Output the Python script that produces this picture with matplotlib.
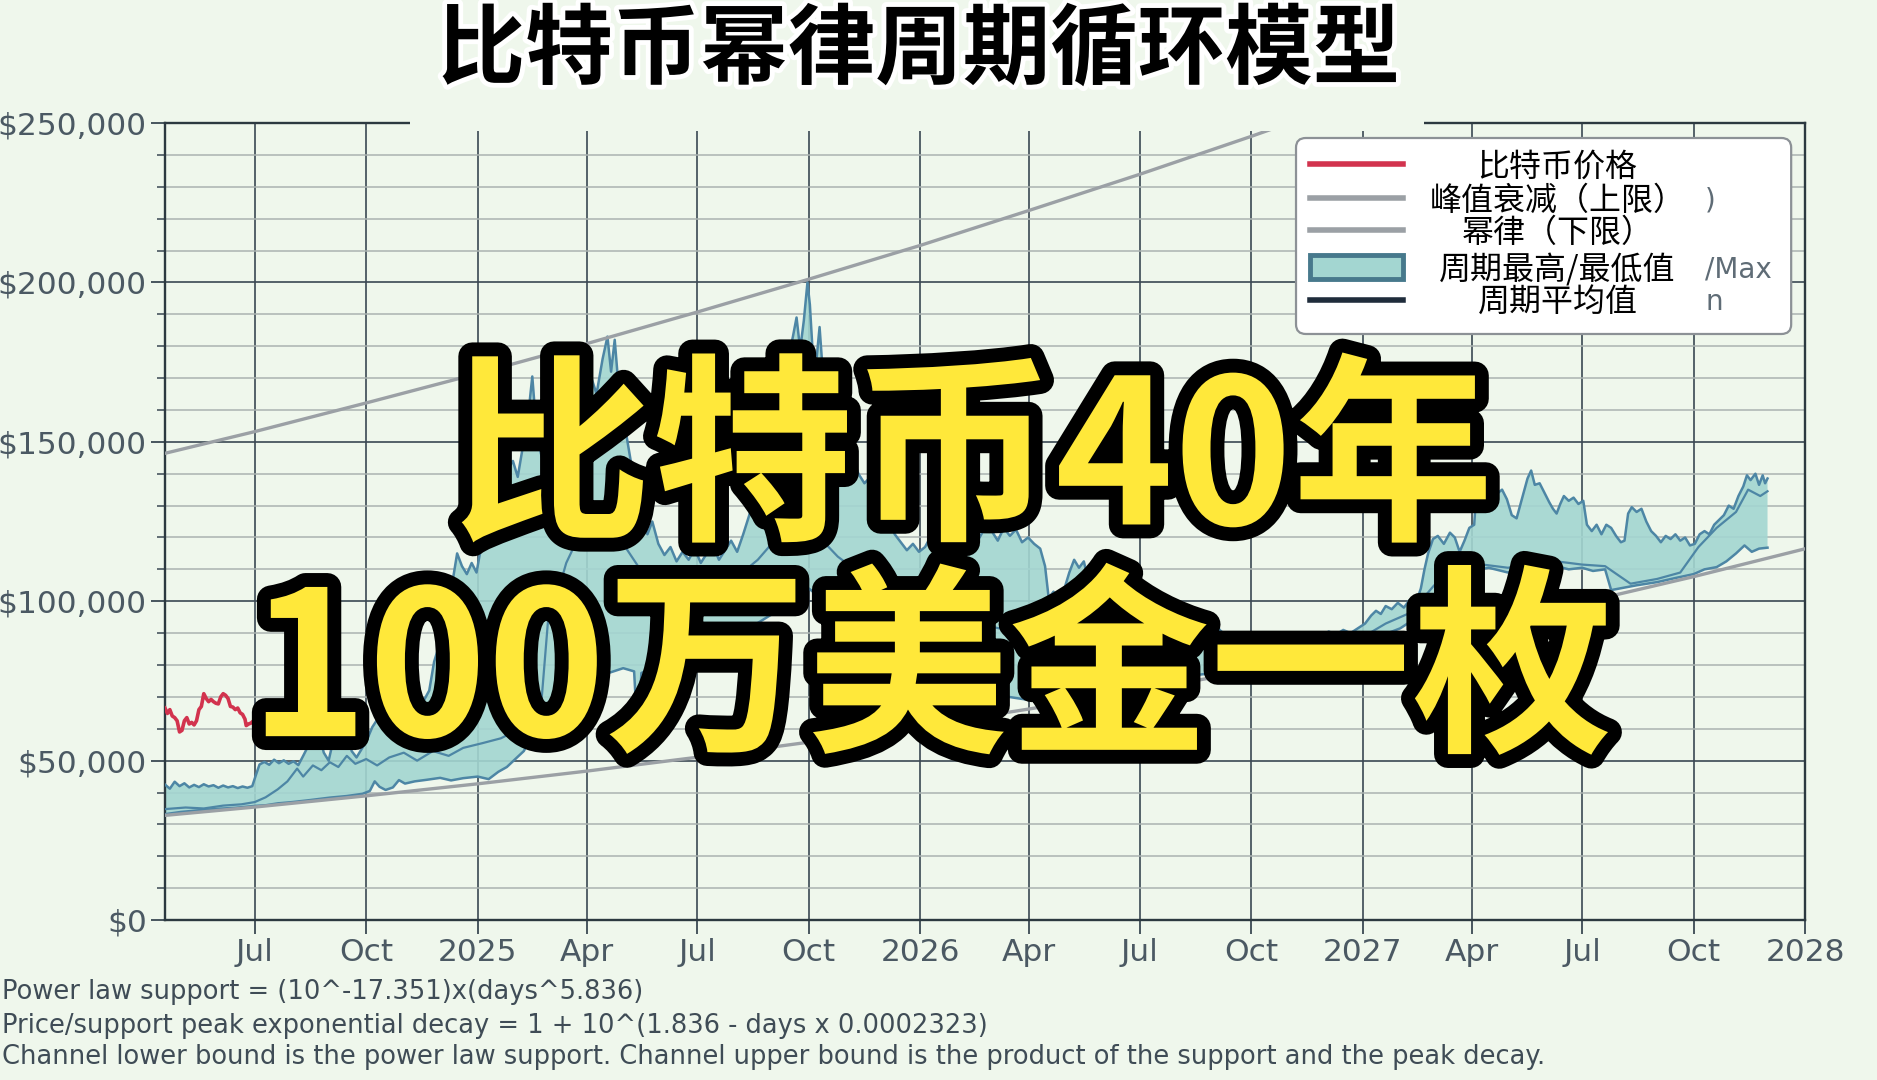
import numpy as np
import pandas as pd
import matplotlib
matplotlib.use('Agg')
import matplotlib.pyplot as plt
import matplotlib.dates as mdates
import matplotlib.patheffects as pe
from matplotlib.patches import FancyBboxPatch, Rectangle
from matplotlib.lines import Line2D
from matplotlib.ticker import FixedLocator, MultipleLocator, FuncFormatter

CJK = ['Noto Sans CJK SC', 'DejaVu Sans']

# values in thousands of USD
price = [
    ('2024-04-18', 66.5), ('2024-04-20', 64.8), ('2024-04-22', 66.0), ('2024-04-24', 64.0),
    ('2024-04-26', 63.5), ('2024-04-28', 62.5), ('2024-04-30', 59.0), ('2024-05-02', 59.5),
    ('2024-05-04', 62.5), ('2024-05-06', 63.5), ('2024-05-08', 61.5), ('2024-05-10', 62.0),
    ('2024-05-12', 61.2), ('2024-05-14', 62.5), ('2024-05-16', 66.0), ('2024-05-18', 67.0),
    ('2024-05-20', 71.0), ('2024-05-22', 69.5), ('2024-05-24', 68.5), ('2024-05-26', 69.2),
    ('2024-05-28', 68.5), ('2024-05-30', 68.0), ('2024-06-01', 67.8), ('2024-06-03', 70.0),
    ('2024-06-05', 71.0), ('2024-06-07', 70.5), ('2024-06-09', 69.5), ('2024-06-11', 67.0),
    ('2024-06-13', 66.8), ('2024-06-15', 66.0), ('2024-06-17', 66.5), ('2024-06-19', 65.0),
    ('2024-06-21', 64.5), ('2024-06-23', 63.0), ('2024-06-24', 61.0), ('2024-06-26', 61.5),
    ('2024-06-28', 61.8), ('2024-06-30', 62.5), ('2024-07-02', 62.0), ('2024-07-04', 58.0),
    ('2024-07-06', 56.5), ('2024-07-08', 56.8), ('2024-07-10', 57.5), ('2024-07-12', 58.0),
    ('2024-07-14', 60.5), ('2024-07-16', 64.8), ('2024-07-18', 64.0), ('2024-07-20', 67.0),
    ('2024-07-22', 68.0), ('2024-07-24', 66.0), ('2024-07-28', 67.5), ('2024-08-01', 64.5),
    ('2024-08-05', 60.0), ('2024-08-09', 61.0),
]

support = [
    ('2024-04-18', 32.83), ('2024-07-01', 35.44), ('2024-10-01', 38.96), ('2025-01-01', 42.73),
    ('2025-04-01', 46.72), ('2025-07-01', 51.06), ('2025-10-01', 55.79), ('2026-01-01', 60.85),
    ('2026-04-01', 66.21), ('2026-07-01', 71.97), ('2026-10-01', 78.23), ('2027-01-01', 84.96),
    ('2027-04-01', 91.96), ('2027-07-01', 99.53), ('2027-10-01', 107.71), ('2028-01-01', 116.45),
]

peak_decay = [
    ('2024-04-18', 146.4), ('2024-07-01', 153.2), ('2024-10-01', 162.2), ('2025-01-01', 171.4),
    ('2025-04-01', 180.8), ('2025-07-01', 190.7), ('2025-10-01', 201.0), ('2026-01-01', 211.6),
    ('2026-04-01', 222.6), ('2026-07-01', 233.9), ('2026-10-01', 245.8), ('2027-01-01', 258.2),
]

cycle_max = [
    ('2024-04-18', 42.5), ('2024-04-22', 41.2), ('2024-04-26', 43.4), ('2024-04-30', 42.0),
    ('2024-05-04', 42.9), ('2024-05-08', 41.6), ('2024-05-12', 42.4), ('2024-05-16', 41.7),
    ('2024-05-20', 42.6), ('2024-05-24', 41.9), ('2024-05-28', 42.3), ('2024-06-01', 41.5),
    ('2024-06-05', 42.2), ('2024-06-09', 41.6), ('2024-06-13', 42.0), ('2024-06-17', 41.4),
    ('2024-06-21', 41.9), ('2024-06-25', 41.5), ('2024-06-29', 42.0), ('2024-07-02', 45.5),
    ('2024-07-05', 48.8), ('2024-07-09', 49.6), ('2024-07-13', 48.7), ('2024-07-17', 50.3),
    ('2024-07-21', 49.2), ('2024-07-25', 50.1), ('2024-07-29', 49.0), ('2024-08-02', 49.8),
    ('2024-08-06', 48.6), ('2024-08-10', 51.5), ('2024-08-14', 54.5), ('2024-08-18', 58.0),
    ('2024-08-21', 62.0), ('2024-08-24', 57.0), ('2024-08-27', 52.5), ('2024-08-31', 50.0),
    ('2024-09-03', 55.0), ('2024-09-06', 62.5), ('2024-09-09', 60.0), ('2024-09-12', 66.0),
    ('2024-09-15', 59.5), ('2024-09-19', 53.0), ('2024-09-23', 51.0), ('2024-09-27', 53.5),
    ('2024-10-01', 56.0), ('2024-10-06', 60.5), ('2024-10-12', 64.0), ('2024-10-18', 62.5),
    ('2024-10-24', 66.5), ('2024-10-30', 68.8), ('2024-11-05', 68.2), ('2024-11-11', 69.5),
    ('2024-11-17', 68.5), ('2024-11-22', 72.0), ('2024-11-26', 81.0), ('2024-11-30', 86.0),
    ('2024-12-04', 89.0), ('2024-12-08', 98.0), ('2024-12-12', 108.0), ('2024-12-15', 115.0),
    ('2024-12-19', 111.0), ('2024-12-23', 108.5), ('2024-12-27', 112.0), ('2024-12-31', 109.0),
    ('2025-01-04', 117.5), ('2025-01-08', 124.0), ('2025-01-12', 118.0), ('2025-01-16', 131.0),
    ('2025-01-20', 142.0), ('2025-01-23', 150.5), ('2025-01-26', 141.5), ('2025-01-30', 144.0),
    ('2025-02-03', 139.0), ('2025-02-07', 148.0), ('2025-02-11', 156.0), ('2025-02-15', 170.5),
    ('2025-02-19', 151.0), ('2025-02-23', 145.0), ('2025-02-28', 150.0), ('2025-03-05', 158.0),
    ('2025-03-10', 152.0), ('2025-03-15', 163.0), ('2025-03-20', 156.0), ('2025-03-25', 166.0),
    ('2025-03-30', 160.0), ('2025-04-04', 171.0), ('2025-04-09', 165.0), ('2025-04-14', 176.0),
    ('2025-04-18', 183.0), ('2025-04-21', 172.0), ('2025-04-24', 182.0), ('2025-04-27', 168.0),
    ('2025-05-01', 158.0), ('2025-05-05', 149.0), ('2025-05-09', 140.0), ('2025-05-13', 132.0),
    ('2025-05-17', 126.0), ('2025-05-21', 121.0), ('2025-05-25', 125.0), ('2025-05-30', 118.0),
    ('2025-06-04', 114.5), ('2025-06-09', 117.0), ('2025-06-14', 112.5), ('2025-06-19', 115.5),
    ('2025-06-24', 113.0), ('2025-06-29', 116.5), ('2025-07-04', 112.0), ('2025-07-09', 115.0),
    ('2025-07-14', 117.5), ('2025-07-19', 113.0), ('2025-07-24', 116.0), ('2025-07-29', 119.0),
    ('2025-08-03', 115.5), ('2025-08-08', 121.0), ('2025-08-13', 127.0), ('2025-08-18', 134.0),
    ('2025-08-23', 143.0), ('2025-08-28', 152.0), ('2025-09-02', 160.0), ('2025-09-06', 156.0),
    ('2025-09-10', 168.0), ('2025-09-14', 176.0), ('2025-09-18', 183.0), ('2025-09-21', 189.0),
    ('2025-09-24', 179.0), ('2025-09-27', 188.0), ('2025-09-30', 200.0), ('2025-10-02', 193.0),
    ('2025-10-04', 180.0), ('2025-10-07', 174.0), ('2025-10-10', 186.0), ('2025-10-13', 170.0),
    ('2025-10-16', 160.0), ('2025-10-19', 148.0), ('2025-10-23', 153.0), ('2025-10-27', 146.0),
    ('2025-11-01', 142.0), ('2025-11-06', 145.5), ('2025-11-11', 140.0), ('2025-11-16', 137.0),
    ('2025-11-21', 139.0), ('2025-11-26', 133.0), ('2025-12-01', 129.0), ('2025-12-06', 125.5),
    ('2025-12-11', 121.0), ('2025-12-16', 118.5), ('2025-12-21', 116.0), ('2025-12-26', 118.0),
    ('2025-12-31', 115.5), ('2026-01-05', 117.0), ('2026-01-10', 120.5), ('2026-01-15', 118.5),
    ('2026-01-20', 122.0), ('2026-01-25', 121.0), ('2026-01-30', 116.5), ('2026-02-04', 119.0),
    ('2026-02-09', 121.5), ('2026-02-14', 118.0), ('2026-02-19', 120.0), ('2026-02-24', 123.5),
    ('2026-03-01', 122.0), ('2026-03-06', 119.0), ('2026-03-11', 123.0), ('2026-03-16', 120.5),
    ('2026-03-21', 122.5), ('2026-03-26', 118.5), ('2026-03-31', 120.0), ('2026-04-05', 118.0),
    ('2026-04-10', 116.5), ('2026-04-14', 111.0), ('2026-04-17', 101.0), ('2026-04-21', 103.0),
    ('2026-04-25', 100.5), ('2026-04-30', 104.0), ('2026-05-04', 109.0), ('2026-05-08', 113.0),
    ('2026-05-12', 110.5), ('2026-05-16', 112.5), ('2026-05-20', 106.0), ('2026-05-26', 103.5),
    ('2026-06-01', 104.5), ('2026-06-07', 101.0), ('2026-06-13', 102.5), ('2026-06-19', 99.5),
    ('2026-06-25', 100.5), ('2026-07-01', 98.0), ('2026-07-07', 99.5), ('2026-07-13', 97.0),
    ('2026-07-19', 98.5), ('2026-07-25', 96.5), ('2026-07-31', 97.5), ('2026-08-06', 95.5),
    ('2026-08-12', 96.5), ('2026-08-18', 94.5), ('2026-08-24', 96.0), ('2026-08-30', 95.0),
    ('2026-09-05', 91.0), ('2026-09-11', 89.0), ('2026-09-17', 90.0), ('2026-09-23', 88.0),
    ('2026-09-29', 89.5), ('2026-10-05', 87.5), ('2026-10-11', 88.5), ('2026-10-17', 86.5),
    ('2026-10-23', 88.0), ('2026-10-29', 87.0), ('2026-11-04', 89.0), ('2026-11-10', 87.5),
    ('2026-11-16', 88.5), ('2026-11-22', 90.0), ('2026-11-28', 89.0), ('2026-12-04', 90.5),
    ('2026-12-10', 89.5), ('2026-12-16', 91.0), ('2026-12-22', 90.0), ('2026-12-28', 91.5),
    ('2027-01-03', 93.0), ('2027-01-08', 95.5), ('2027-01-12', 97.0), ('2027-01-16', 96.0),
    ('2027-01-20', 98.5), ('2027-01-25', 97.5), ('2027-01-30', 99.5), ('2027-02-04', 98.0),
    ('2027-02-09', 100.5), ('2027-02-14', 99.5), ('2027-02-18', 104.0), ('2027-02-21', 110.0),
    ('2027-02-24', 115.0), ('2027-02-28', 119.5), ('2027-03-04', 120.5), ('2027-03-09', 118.0),
    ('2027-03-14', 121.5), ('2027-03-18', 120.0), ('2027-03-22', 115.5), ('2027-03-26', 119.0),
    ('2027-03-30', 123.0), ('2027-04-03', 124.0), ('2027-04-06', 141.0), ('2027-04-09', 143.0),
    ('2027-04-13', 136.0), ('2027-04-17', 139.0), ('2027-04-21', 133.5), ('2027-04-26', 135.0),
    ('2027-04-30', 132.0), ('2027-05-04', 127.0), ('2027-05-08', 126.0), ('2027-05-13', 133.0),
    ('2027-05-17', 138.5), ('2027-05-20', 141.0), ('2027-05-23', 136.5), ('2027-05-27', 137.0),
    ('2027-05-31', 134.0), ('2027-06-04', 131.0), ('2027-06-07', 129.0), ('2027-06-10', 127.5),
    ('2027-06-13', 130.5), ('2027-06-16', 133.0), ('2027-06-20', 131.5), ('2027-06-24', 132.5),
    ('2027-06-28', 130.5), ('2027-07-02', 131.5), ('2027-07-05', 124.0), ('2027-07-09', 122.0),
    ('2027-07-13', 124.0), ('2027-07-17', 121.0), ('2027-07-21', 124.0), ('2027-07-25', 123.0),
    ('2027-07-29', 120.5), ('2027-08-02', 118.5), ('2027-08-05', 119.0), ('2027-08-08', 127.5),
    ('2027-08-11', 129.5), ('2027-08-15', 128.0), ('2027-08-19', 129.0), ('2027-08-23', 125.0),
    ('2027-08-27', 122.0), ('2027-08-31', 120.5), ('2027-09-04', 118.5), ('2027-09-08', 120.5),
    ('2027-09-12', 119.5), ('2027-09-16', 121.0), ('2027-09-20', 119.0), ('2027-09-24', 120.0),
    ('2027-09-28', 117.5), ('2027-10-02', 118.0), ('2027-10-06', 121.0), ('2027-10-10', 122.0),
    ('2027-10-14', 121.0), ('2027-10-18', 124.0), ('2027-10-22', 125.5), ('2027-10-26', 127.0),
    ('2027-10-30', 130.0), ('2027-11-03', 129.0), ('2027-11-07', 133.0), ('2027-11-11', 136.0),
    ('2027-11-14', 139.5), ('2027-11-17', 138.0), ('2027-11-21', 140.0), ('2027-11-24', 136.5),
    ('2027-11-27', 139.5), ('2027-11-29', 137.0), ('2027-12-01', 138.5),
]

cycle_min = [
    ('2024-04-18', 33.2), ('2024-05-01', 33.9), ('2024-05-15', 34.4), ('2024-06-01', 34.9),
    ('2024-06-15', 35.2), ('2024-07-01', 35.8), ('2024-07-10', 36.0), ('2024-07-20', 36.6),
    ('2024-08-01', 37.0), ('2024-08-15', 37.6), ('2024-09-01', 38.4), ('2024-09-15', 38.9),
    ('2024-09-28', 39.6), ('2024-10-04', 40.5), ('2024-10-08', 43.5), ('2024-10-12', 41.8),
    ('2024-10-17', 40.8), ('2024-10-23', 41.6), ('2024-10-28', 43.9), ('2024-11-02', 42.8),
    ('2024-11-10', 43.5), ('2024-11-20', 44.0), ('2024-12-01', 44.6), ('2024-12-10', 43.8),
    ('2024-12-20', 44.5), ('2025-01-01', 45.0), ('2025-01-10', 44.2), ('2025-01-18', 46.5),
    ('2025-01-25', 48.0), ('2025-02-01', 50.5), ('2025-02-08', 53.0), ('2025-02-15', 58.0),
    ('2025-02-22', 62.0), ('2025-03-01', 66.0), ('2025-03-15', 70.0), ('2025-04-01', 74.0),
    ('2025-04-15', 77.0), ('2025-05-01', 79.0), ('2025-05-10', 78.0), ('2025-05-13', 57.0),
    ('2025-05-16', 77.5), ('2025-06-01', 80.0), ('2025-06-15', 82.0), ('2025-07-01', 85.0),
    ('2025-07-15', 84.0), ('2025-08-01', 88.0), ('2025-08-15', 92.0), ('2025-09-01', 96.0),
    ('2025-09-15', 100.0), ('2025-10-01', 104.0), ('2025-10-15', 100.0), ('2025-11-01', 96.0),
    ('2025-11-15', 92.0), ('2025-12-01', 88.0), ('2025-12-15', 84.0), ('2026-01-01', 80.0),
    ('2026-01-15', 77.0), ('2026-02-01', 75.0), ('2026-02-15', 73.0), ('2026-03-01', 71.0),
    ('2026-03-15', 70.0), ('2026-04-01', 69.0), ('2026-04-15', 70.0), ('2026-05-01', 70.5),
    ('2026-05-15', 71.5), ('2026-06-01', 72.5), ('2026-06-15', 73.5), ('2026-07-01', 74.0),
    ('2026-07-15', 75.0), ('2026-08-01', 76.0), ('2026-08-15', 76.8), ('2026-09-01', 77.5),
    ('2026-09-15', 78.5), ('2026-10-01', 79.5), ('2026-10-15', 80.5), ('2026-11-01', 82.0),
    ('2026-11-15', 83.0), ('2026-12-01', 84.5), ('2026-12-15', 85.5), ('2027-01-01', 87.0),
    ('2027-01-15', 89.0), ('2027-02-01', 91.5), ('2027-02-15', 95.0), ('2027-02-25', 100.0),
    ('2027-03-05', 104.0), ('2027-03-20', 107.0), ('2027-04-01', 109.5), ('2027-04-15', 110.5),
    ('2027-05-01', 109.0), ('2027-05-15', 110.5), ('2027-06-01', 109.5), ('2027-06-10', 111.0),
    ('2027-06-20', 110.0), ('2027-07-01', 110.5), ('2027-07-10', 109.5), ('2027-07-20', 110.0),
    ('2027-07-25', 103.5), ('2027-08-01', 104.0), ('2027-08-15', 105.0), ('2027-09-01', 106.0),
    ('2027-09-15', 107.2), ('2027-10-01', 108.5), ('2027-10-10', 110.0), ('2027-10-20', 110.7),
    ('2027-10-28', 112.5), ('2027-11-05', 115.0), ('2027-11-12', 117.5), ('2027-11-18', 115.5),
    ('2027-11-24', 116.5), ('2027-12-01', 116.8),
]

cycle_inner = [
    ('2024-04-18', 34.8), ('2024-05-05', 35.3), ('2024-05-20', 35.0), ('2024-06-05', 35.9),
    ('2024-06-20', 36.3), ('2024-07-01', 37.0), ('2024-07-10', 38.5), ('2024-07-20', 41.0),
    ('2024-07-28', 43.5), ('2024-08-05', 47.5), ('2024-08-10', 45.0), ('2024-08-18', 48.5),
    ('2024-08-25', 47.0), ('2024-09-01', 49.5), ('2024-09-08', 48.0), ('2024-09-15', 51.5),
    ('2024-09-22', 49.0), ('2024-10-01', 50.5), ('2024-10-10', 48.5), ('2024-10-20', 51.0),
    ('2024-11-01', 52.5), ('2024-11-12', 50.0), ('2024-11-25', 53.0), ('2024-12-08', 51.5),
    ('2024-12-20', 54.0), ('2025-01-05', 55.5), ('2025-01-20', 57.0), ('2025-02-05', 60.0),
    ('2025-02-15', 63.0), ('2025-02-22', 66.0), ('2025-02-25', 80.0), ('2025-02-28', 94.0),
    ('2025-03-06', 100.0), ('2025-03-15', 112.0), ('2025-03-25', 120.0), ('2025-04-05', 131.0),
    ('2025-04-15', 125.0), ('2025-05-01', 118.0), ('2025-05-15', 110.0), ('2025-06-01', 104.0),
    ('2025-06-20', 99.0), ('2025-07-10', 102.0), ('2025-08-01', 107.0), ('2025-08-20', 113.0),
    ('2025-09-05', 120.0), ('2025-09-20', 128.0), ('2025-10-05', 122.0), ('2025-10-25', 114.0),
    ('2025-11-15', 108.0), ('2025-12-05', 103.0), ('2025-12-25', 99.0), ('2026-01-15', 96.0),
    ('2026-02-05', 94.0), ('2026-03-01', 92.0), ('2026-03-25', 90.0), ('2026-04-20', 88.0),
    ('2026-05-15', 90.0), ('2026-06-10', 89.0), ('2026-07-05', 89.0), ('2026-08-01', 90.0),
    ('2026-08-25', 88.5), ('2026-09-20', 84.5), ('2026-10-15', 83.5), ('2026-11-10', 85.0),
    ('2026-12-05', 86.5), ('2026-12-31', 88.5), ('2027-01-20', 93.0), ('2027-02-10', 96.5),
    ('2027-03-01', 105.0), ('2027-03-25', 108.5), ('2027-04-10', 111.5), ('2027-05-01', 110.5),
    ('2027-05-20', 112.0), ('2027-06-10', 112.5), ('2027-07-01', 111.5), ('2027-07-20', 111.0),
    ('2027-08-10', 105.5), ('2027-09-01', 107.0), ('2027-09-20', 109.0), ('2027-10-05', 117.0),
    ('2027-10-20', 123.0), ('2027-11-05', 128.0), ('2027-11-15', 135.0), ('2027-11-25', 133.0),
    ('2027-12-01', 134.5),
]

tick_dates = ['2024-07-01', '2024-10-01', '2025-01-01', '2025-04-01', '2025-07-01',
              '2025-10-01', '2026-01-01', '2026-04-01', '2026-07-01', '2026-10-01',
              '2027-01-01', '2027-04-01', '2027-07-01', '2027-10-01', '2028-01-01']
tick_labels = ['Jul', 'Oct', '2025', 'Apr', 'Jul', 'Oct', '2026', 'Apr', 'Jul', 'Oct',
               '2027', 'Apr', 'Jul', 'Oct', '2028']

legend_labels = ['比特币价格', '峰值衰减（上限）', '幂律（下限）', '周期最高/最低值', '周期平均值']
notes = ['Power law support = (10^-17.351)x(days^5.836)',
         'Price/support peak exponential decay = 1 + 10^(1.836 - days x 0.0002323)',
         'Channel lower bound is the power law support. Channel upper bound is the product of the support and the peak decay.']

BG = '#eff7ec'
RED = '#d2334e'
GRAY = '#9ba0a5'
EDGE = '#4d86a5'
FILL = '#a3d6d1'
NAVY = '#1f2c3b'
GRID = '#3a4853'
TXT = '#4b5963'


def xy(pairs):
    d = mdates.date2num(pd.to_datetime([p[0] for p in pairs]))
    v = np.array([p[1] for p in pairs]) * 1000
    return d, v


fig = plt.figure(figsize=(18.77, 10.8), dpi=100)
fig.patch.set_facecolor(BG)
ax = fig.add_axes([0.0879, 0.1481, 0.8738, 0.7380])
ax.set_facecolor(BG)

ux, uy = xy(cycle_max)
lx, ly = xy(cycle_min)
ax.fill(np.r_[ux, lx[::-1]], np.r_[uy, ly[::-1]], color=FILL, alpha=0.9, lw=0, zorder=2)
ax.plot(ux, uy, color=EDGE, lw=1.8, zorder=3)
ax.plot(lx, ly, color=EDGE, lw=1.8, zorder=3)
ax.plot(*xy(cycle_inner), color=EDGE, lw=1.6, zorder=3)
ax.plot(*xy(support), color=GRAY, lw=2.4, zorder=4)
ax.plot(*xy(peak_decay), color=GRAY, lw=2.4, zorder=4)
ax.plot(*xy(price), color=RED, lw=2.6, zorder=5)

ax.set_xlim(mdates.date2num(pd.Timestamp('2024-04-18')), mdates.date2num(pd.Timestamp('2028-01-01')))
ax.set_ylim(0, 250000)
ax.xaxis.set_major_locator(FixedLocator(mdates.date2num(pd.to_datetime(tick_dates))))
ax.set_xticklabels(tick_labels)
ax.yaxis.set_major_locator(MultipleLocator(50000))
ax.yaxis.set_minor_locator(MultipleLocator(10000))
ax.yaxis.set_major_formatter(FuncFormatter(lambda v, p: '${:,.0f}'.format(v)))

ax.grid(True, which='major', color=GRID, lw=1.2)
ax.grid(True, which='minor', axis='y', color='#aab3b1', lw=1.1)
ax.set_axisbelow(True)
ax.tick_params(axis='both', which='major', length=10, width=1.3, color=GRID,
               labelsize=22.5, labelcolor=TXT, pad=3)
ax.tick_params(axis='y', which='minor', length=6, width=1.1, color=GRID)
for s in ax.spines.values():
    s.set_color('#2c3940')
    s.set_linewidth(1.7)

# legend drawn by hand so the labels can be centred
box = FancyBboxPatch((0.6896, 0.7353), 0.3019, 0.2459, transform=ax.transAxes,
                     boxstyle='round,pad=0,rounding_size=0.006', mutation_aspect=2.0,
                     fc='white', ec='#8c9196', lw=1.6, zorder=6)
ax.add_patch(box)
rows = [0.9486, 0.9059, 0.8657, 0.8193, 0.7779]
hx = [0.698, 0.755]
for y, c in zip([rows[0], rows[1], rows[2], rows[4]], [RED, GRAY, GRAY, NAVY]):
    ax.add_line(Line2D(hx, [y, y], transform=ax.transAxes, color=c, lw=4, zorder=7))
ax.add_patch(Rectangle((hx[0], rows[3] - 0.0155), hx[1] - hx[0], 0.031, transform=ax.transAxes,
                       fc=FILL, ec='#47798c', lw=3.5, zorder=7))
for y, lab in zip(rows, legend_labels):
    ax.text(0.849, y - 0.004, lab, transform=ax.transAxes, ha='center', va='center',
            fontsize=23, family=CJK, color='black', zorder=8)
for y, s in zip([rows[1], rows[3], rows[4]], [')', '/Max', 'n']):
    ax.text(0.939, y - 0.003, s, transform=ax.transAxes, ha='left', va='center',
            fontsize=20, color='#5f6c76', zorder=8)

# title panel covering the top spine
fig.add_artist(Rectangle((410 / 1877, 1 - 131 / 1080), 1014 / 1877, 131 / 1080,
                         transform=fig.transFigure, fc=BG, ec='none', zorder=3))
fig.text(0.4896, 0.952, '比特币幂律周期循环模型', ha='center', va='center', fontsize=63,
         weight='heavy', family=CJK, color='black', zorder=4,
         path_effects=[pe.withStroke(linewidth=7, foreground='white')])

big = dict(ha='center', va='center', fontsize=145, weight='heavy', family=CJK,
           color='#ffe83a', zorder=10,
           path_effects=[pe.withStroke(linewidth=20, foreground='black')])
fig.text(0.518, 0.569, '比特币40年', **big)
fig.text(0.496, 0.373, '100万美金一枚', **big)

for y, s in zip([0.0815, 0.050, 0.0213], notes):
    fig.text(0.001, y, s, ha='left', va='center', fontsize=18.5, color='#3f4c56')

fig.savefig('out.png', dpi=100, facecolor=BG)
